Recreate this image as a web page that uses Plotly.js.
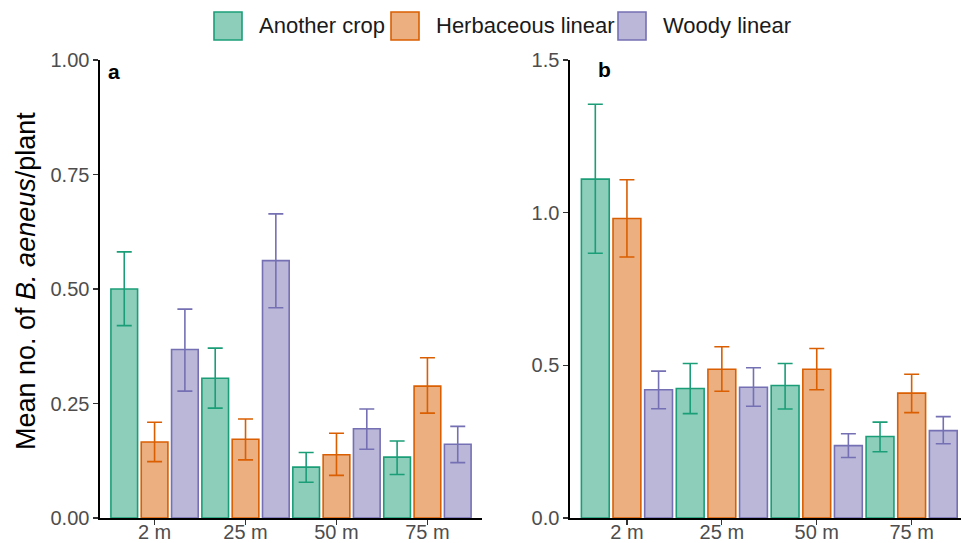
<!DOCTYPE html>
<html>
<head>
<meta charset="utf-8">
<script src="https://cdn.plot.ly/plotly-3.0.1.min.js"></script>
<style>html,body{margin:0;padding:0;background:#fff;}#chart{width:961px;height:543px;}</style>
</head>
<body>
<div id="chart"></div>
<script>
// ---- data ----
var categories = ['2 m', '25 m', '50 m', '75 m'];
var seriesNames = ['Another crop', 'Herbaceous linear', 'Woody linear'];

// panel a (means, upper and lower error-bar ends)
var aAnother   = [0.500, 0.305, 0.111, 0.133];
var aAnotherHi = [0.581, 0.371, 0.143, 0.168];
var aAnotherLo = [0.420, 0.240, 0.078, 0.095];
var aHerb      = [0.166, 0.172, 0.138, 0.288];
var aHerbHi    = [0.209, 0.216, 0.185, 0.350];
var aHerbLo    = [0.123, 0.127, 0.093, 0.229];
var aWoody     = [0.368, 0.562, 0.195, 0.161];
var aWoodyHi   = [0.456, 0.664, 0.238, 0.200];
var aWoodyLo   = [0.277, 0.459, 0.150, 0.121];

// panel b
var bAnother   = [1.110, 0.424, 0.434, 0.267];
var bAnotherHi = [1.355, 0.506, 0.506, 0.314];
var bAnotherLo = [0.867, 0.342, 0.357, 0.217];
var bHerb      = [0.981, 0.487, 0.487, 0.409];
var bHerbHi    = [1.108, 0.561, 0.555, 0.471];
var bHerbLo    = [0.855, 0.415, 0.420, 0.345];
var bWoody     = [0.420, 0.428, 0.237, 0.286];
var bWoodyHi   = [0.481, 0.492, 0.276, 0.332];
var bWoodyLo   = [0.358, 0.366, 0.198, 0.243];

var aTicks = [0, 0.25, 0.5, 0.75, 1.0];
var bTicks = [0, 0.5, 1.0, 1.5];

// ---- styles ----
var lineColors = ['#1B9E77', '#D95F02', '#7570B3'];
var fillColors = ['rgba(27,158,119,0.5)', 'rgba(217,95,2,0.5)', 'rgba(117,112,179,0.5)'];
var FONT = 'Liberation Sans, Arial, sans-serif';
var W = 961, H = 543;
function px(x) { return x / W; }
function py(y) { return 1 - y / H; }

function diff(a, b) { return a.map(function (v, i) { return v - b[i]; }); }

function barTrace(k, y, hi, lo, xa, ya) {
  return {
    type: 'bar', x: categories, y: y, name: seriesNames[k],
    xaxis: xa, yaxis: ya, showlegend: false,
    marker: { color: fillColors[k], line: { color: lineColors[k], width: 1.6 } },
    error_y: {
      type: 'data', symmetric: false,
      array: diff(hi, y), arrayminus: diff(y, lo),
      color: lineColors[k], thickness: 1.6, width: 7.5
    },
    hoverinfo: 'x+y+name'
  };
}

var traces = [
  barTrace(0, aAnother, aAnotherHi, aAnotherLo, 'x', 'y'),
  barTrace(1, aHerb, aHerbHi, aHerbLo, 'x', 'y'),
  barTrace(2, aWoody, aWoodyHi, aWoodyLo, 'x', 'y'),
  barTrace(0, bAnother, bAnotherHi, bAnotherLo, 'x2', 'y2'),
  barTrace(1, bHerb, bHerbHi, bHerbLo, 'x2', 'y2'),
  barTrace(2, bWoody, bWoodyHi, bWoodyLo, 'x2', 'y2')
];

var tickFont = { family: FONT, size: 20, color: '#4D4D4D' };
var commonX = {
  type: 'category', showgrid: false, zeroline: false,
  showline: true, linecolor: '#000', linewidth: 1.6,
  ticks: 'outside', ticklen: 5, tickcolor: '#333', tickwidth: 1.2,
  ticklabelstandoff: -10,
  tickfont: tickFont, fixedrange: true
};
var commonY = {
  showgrid: false, zeroline: false,
  showline: true, linecolor: '#000', linewidth: 1.6,
  ticks: 'outside', ticklen: 5, tickcolor: '#333', tickwidth: 1.2,
  tickfont: tickFont, tickmode: 'array', fixedrange: true
};

var ydom = [py(518), py(60)];
var layout = {
  width: W, height: H,
  margin: { l: 0, r: 0, t: 0, b: 0 },
  paper_bgcolor: '#fff', plot_bgcolor: '#fff',
  font: { family: FONT },
  barmode: 'group', bargap: 0.0, bargroupgap: 0.12,
  showlegend: false,
  xaxis: Object.assign({}, commonX, { domain: [px(100), px(482)], range: [-0.6, 3.6], anchor: 'y' }),
  yaxis: Object.assign({}, commonY, { domain: ydom, range: [0, 1.0], anchor: 'x',
    tickvals: aTicks, ticktext: aTicks.map(function (v) { return v.toFixed(2); }) }),
  xaxis2: Object.assign({}, commonX, { domain: [px(570), 1], range: [-0.6, 3.52], anchor: 'y2' }),
  yaxis2: Object.assign({}, commonY, { domain: ydom, range: [0, 1.5], anchor: 'x2',
    tickvals: bTicks, ticktext: bTicks.map(function (v) { return v.toFixed(1); }) }),
  shapes: [],
  annotations: [
    { text: 'Mean no. of <i>B. aeneus</i>/plant', textangle: -90, showarrow: false,
      xref: 'paper', yref: 'paper', x: px(26), y: py(281), xanchor: 'center', yanchor: 'middle',
      font: { family: FONT, size: 27, color: '#000' } },
    { text: '<b>a</b>', showarrow: false, xref: 'paper', yref: 'paper',
      x: px(106), y: py(71), xanchor: 'left', yanchor: 'middle',
      font: { family: FONT, size: 21, color: '#000' } },
    { text: '<b>b</b>', showarrow: false, xref: 'paper', yref: 'paper',
      x: px(596), y: py(69), xanchor: 'left', yanchor: 'middle',
      font: { family: FONT, size: 21, color: '#000' } }
  ]
};

// manual legend (large keys like the reference)
var keyX = [214, 391, 618];
var textX = [257, 434, 661];
for (var k = 0; k < 3; k++) {
  layout.shapes.push({
    type: 'rect', xref: 'paper', yref: 'paper',
    x0: px(keyX[k]), x1: px(keyX[k] + 28), y0: py(40), y1: py(12),
    fillcolor: fillColors[k], line: { color: lineColors[k], width: 1.6 }
  });
  layout.annotations.push({
    text: seriesNames[k], showarrow: false, xref: 'paper', yref: 'paper',
    x: px(textX[k]), y: py(26), xanchor: 'left', yanchor: 'middle',
    font: { family: FONT, size: 22, color: '#1A1A1A' }
  });
}

Plotly.newPlot('chart', traces, layout, { displayModeBar: false, staticPlot: true });
</script>
</body>
</html>
